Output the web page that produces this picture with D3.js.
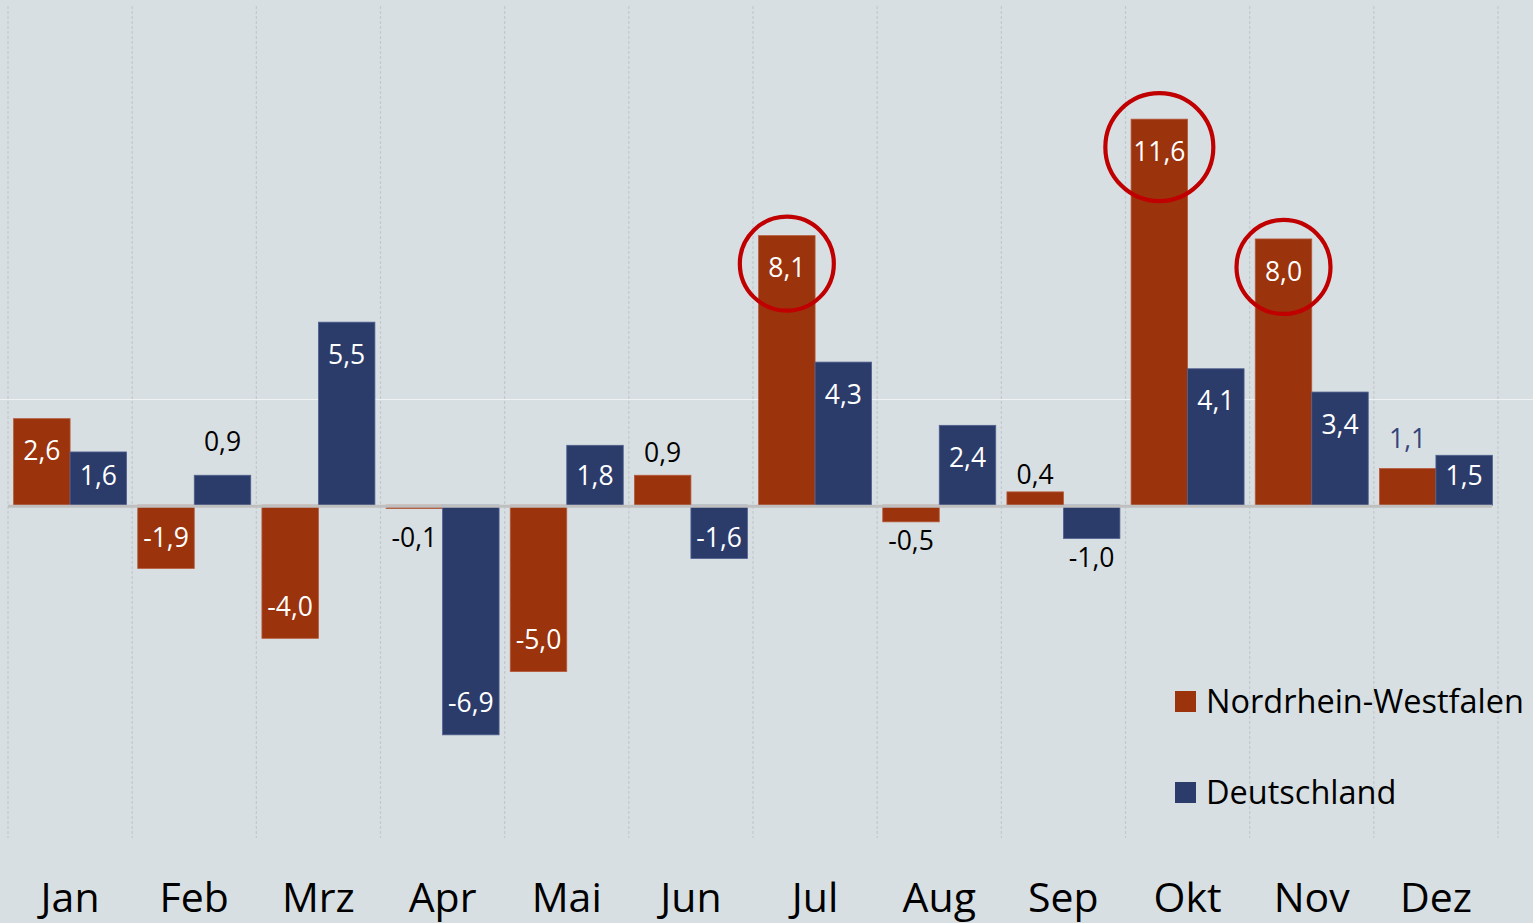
<!DOCTYPE html>
<html><head><meta charset="utf-8">
<script src="https://cdn.jsdelivr.net/npm/d3@7"></script>
<style>
html,body{margin:0;padding:0;background:#d8dfe2;}
svg{display:block;font-family:"Open Sans",Lato,sans-serif;}
</style></head>
<body><svg id="c" width="1533" height="923"></svg>
<script>
const months = ["Jan","Feb","Mrz","Apr","Mai","Jun","Jul","Aug","Sep","Okt","Nov","Dez"];
const nrw = [2.6,-1.9,-4.0,-0.1,-5.0,0.9,8.1,-0.5,0.4,11.6,8.0,1.1];
const de  = [1.6,0.9,5.5,-6.9,1.8,-1.6,4.3,2.4,-1.0,4.1,3.4,1.5];
const seriesNames = ["Nordrhein-Westfalen","Deutschland"];
const highlighted = ["Jul","Okt","Nov"]; // NRW values circled
const yDomain = [-10, 15];
// manual nudges for outside labels (px), null = default
const nrwLabelNudge = [null,null,null,10,null,-6,null,0,0,null,null,-13];
const deLabelNudge  = [null,-17,null,null,null,null,null,null,0,null,null,null];

const colors = {nrw:"#9b330c", de:"#2b3c6b", nrwEdge:"#b65a3b", deEdge:"#50608f"};
const svg = d3.select("#c");
const W=1533;
const x = d3.scaleBand().domain(months).range([8,1498]).paddingInner(0.09).paddingOuter(0.045);
const step = x.step();
const x1 = d3.scaleBand().domain([0,1]).range([0,x.bandwidth()]);
const y = d3.scaleLinear().domain(yDomain).range([838,6]);

// vertical dashed grid
const bounds = months.map((m,i)=>8+i*step).concat([1498]);
svg.append("g").selectAll("line").data(bounds).join("line")
  .attr("x1",d=>d).attr("x2",d=>d).attr("y1",y(yDomain[1])).attr("y2",y(yDomain[0]))
  .attr("stroke","#c3c8cc").attr("stroke-width",1.2).attr("stroke-dasharray","3,2");
// faint horizontal line
svg.append("line").attr("x1",0).attr("x2",W).attr("y1",Math.round(y(3.2))+0.5).attr("y2",Math.round(y(3.2))+0.5)
  .attr("stroke","#eef2f3").attr("stroke-width",1);

const rows = months.map((m,i)=>({m,i,vals:[nrw[i],de[i]],nudge:[nrwLabelNudge[i],deLabelNudge[i]]}));
const g = svg.append("g");
rows.forEach(r=>{
  r.vals.forEach((v,s)=>{
    const bx = x(r.m)+x1(s), bw=x1.bandwidth();
    const y0=y(0), yv=y(v);
    g.append("rect").attr("x",bx).attr("y",Math.min(y0,yv)).attr("width",bw).attr("height",Math.abs(yv-y0))
      .attr("fill",s?colors.de:colors.nrw).attr("stroke",s?colors.deEdge:colors.nrwEdge).attr("stroke-width",0.8);
  });
});
// zero line
svg.append("line").attr("x1",8).attr("x2",1492).attr("y1",y(0)+1).attr("y2",y(0)+1)
  .attr("stroke","#bfbfbf").attr("stroke-width",3);

// labels
const fmt = v=>d3.format(".1f")(v).replace(".",",").replace("−","-");
const labels = svg.append("g").attr("font-size",26.5).attr("text-anchor","middle");
const labelPos = {};
rows.forEach(r=>{
  r.vals.forEach((v,s)=>{
    const cx = x(r.m)+x1(s)+x1.bandwidth()/2;
    const y0=y(0), yv=y(v);
    let cy, fill;
    if (Math.abs(v)>=1.5){
      fill="#ffffff";
      cy = v>0 ? Math.min(yv+32, y0-30) : Math.max(yv-32, y0+32);
    } else {
      fill = (s===0 && r.m==="Dez") ? "#34457c" : "#000000";
      const n = r.nudge[s]||0;
      cy = v>0 ? yv-17+n : yv+19+n;
    }
    labels.append("text").attr("x",cx).attr("y",cy).attr("dy","0.36em").attr("fill",fill).text(fmt(v));
    if (s===0) labelPos[r.m]={cx,cy,v};
  });
});
// highlight circles
highlighted.forEach(m=>{
  const p=labelPos[m];
  const r = fmt(p.v).length>3 ? 54 : 47;
  svg.append("circle").attr("cx",p.cx).attr("cy",p.cy-4).attr("r",r)
    .attr("fill","none").attr("stroke","#c00000").attr("stroke-width",4.2);
});

// x axis labels
svg.append("g").selectAll("text").data(months).join("text")
  .attr("x",d=>x(d)+x.bandwidth()/2).attr("y",912).attr("text-anchor","middle")
  .attr("font-size",41).attr("fill","#000").text(d=>d);

// legend
const leg = svg.append("g");
seriesNames.forEach((n,i)=>{
  const ly = 701 + i*91;
  leg.append("rect").attr("x",1175).attr("y",ly-10).attr("width",21).attr("height",21)
    .attr("fill",i?colors.de:colors.nrw);
  leg.append("text").attr("x",1206).attr("y",ly).attr("dy","0.36em").attr("font-size",32.5).attr("fill","#000").text(n);
});
</script></body></html>
